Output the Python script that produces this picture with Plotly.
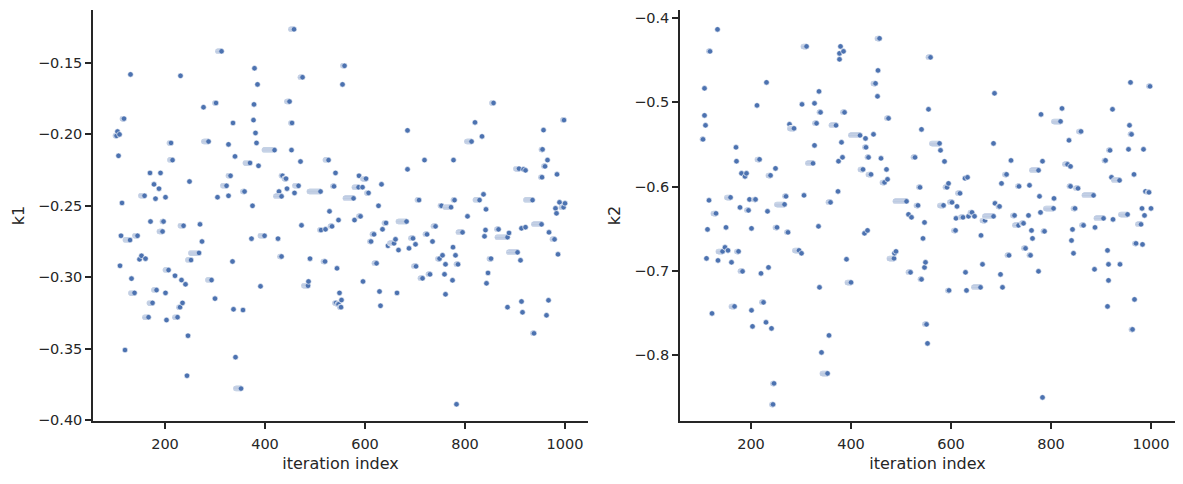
import plotly.graph_objects as go
from plotly.subplots import make_subplots

# ---- k1 chain: runs (end iteration, run length, value)
k1_end = [131,231,118,105,109,103,212,107,215,170,191,249,178,188,159,181,201,114,171,197,237,270,112,195,145,130,268,153,149,161,252,110,207,220,233,241,133,139,183,201,175,235,230,167,225,203,246,120,244,
          458,313,379,385,277,302,378,449,336,377,454,381,287,327,383,419,453,340,370,387,331,323,359,305,327,375,435,442,444,428,433,467,459,274,373,399,426,433,335,293,391,300,337,356,341,352,
          559,475,555,471,527,541,588,602,633,511,538,587,595,607,577,627,529,591,547,579,473,642,635,534,521,512,618,612,661,658,646,667,490,520,544,623,487,486,596,549,629,664,553,542,547,552,631,
          857,820,685,813,834,719,777,685,708,779,753,772,829,837,842,805,683,741,795,867,841,839,724,696,701,688,735,776,755,749,781,761,786,852,702,730,759,715,775,846,843,761,783,
          998,957,955,965,960,908,917,921,954,984,935,989,1000,981,997,983,888,885,913,921,953,968,979,905,911,986,913,967,885,915,963,938]
k1_len = [1,1,4,1,1,3,4,1,6,1,1,1,1,1,8,1,1,1,1,3,7,1,1,7,6,10,17,1,1,1,7,1,7,1,1,1,1,8,6,1,7,1,3,8,6,1,1,1,1,
          7,8,1,1,1,3,1,6,1,1,3,1,10,1,1,21,1,1,10,1,5,8,4,1,1,1,3,4,1,1,12,8,1,1,1,9,1,4,1,8,1,1,1,1,1,11,
          4,5,1,1,7,1,1,7,1,23,3,9,1,4,17,1,1,4,1,1,1,4,1,4,1,3,4,3,1,9,1,1,1,4,1,5,1,9,1,1,1,1,1,3,3,3,1,
          4,1,1,10,1,1,1,1,4,3,3,12,9,1,1,1,17,5,9,4,1,1,4,5,1,1,1,1,1,4,1,1,4,4,5,4,1,5,1,1,1,1,1,
          3,1,3,1,3,7,1,1,3,1,14,1,1,1,5,1,1,21,1,1,16,1,5,18,1,1,1,1,1,1,1,3]
k1_val = [-0.158,-0.159,-0.189,-0.198,-0.200,-0.201,-0.206,-0.215,-0.218,-0.227,-0.227,-0.233,-0.235,-0.238,-0.243,-0.245,-0.244,-0.248,-0.261,-0.261,-0.264,-0.263,-0.271,-0.268,-0.271,-0.274,-0.283,-0.285,-0.2875,-0.287,-0.288,-0.292,-0.295,-0.299,-0.302,-0.305,-0.301,-0.311,-0.309,-0.311,-0.318,-0.318,-0.321,-0.328,-0.328,-0.330,-0.341,-0.351,-0.369,
          -0.1264,-0.1418,-0.1537,-0.165,-0.181,-0.178,-0.179,-0.177,-0.192,-0.190,-0.192,-0.199,-0.205,-0.207,-0.206,-0.211,-0.211,-0.2154,-0.220,-0.222,-0.229,-0.236,-0.240,-0.244,-0.243,-0.250,-0.229,-0.231,-0.238,-0.240,-0.2434,-0.236,-0.241,-0.275,-0.273,-0.271,-0.273,-0.2855,-0.289,-0.302,-0.3064,-0.315,-0.3225,-0.323,-0.356,-0.378,
          -0.152,-0.160,-0.165,-0.219,-0.218,-0.227,-0.229,-0.231,-0.235,-0.240,-0.2364,-0.237,-0.237,-0.241,-0.2448,-0.250,-0.2539,-0.2574,-0.260,-0.260,-0.2637,-0.262,-0.2665,-0.2644,-0.2665,-0.267,-0.270,-0.275,-0.2735,-0.2763,-0.278,-0.281,-0.287,-0.289,-0.2938,-0.2903,-0.303,-0.306,-0.303,-0.311,-0.310,-0.311,-0.316,-0.318,-0.319,-0.321,-0.320,
          -0.178,-0.1916,-0.1972,-0.205,-0.2014,-0.218,-0.218,-0.2245,-0.246,-0.246,-0.250,-0.251,-0.246,-0.242,-0.2525,-0.2574,-0.261,-0.2644,-0.2686,-0.2665,-0.267,-0.2714,-0.270,-0.2728,-0.277,-0.2798,-0.275,-0.279,-0.2847,-0.287,-0.2847,-0.291,-0.291,-0.287,-0.2924,-0.298,-0.298,-0.3008,-0.3022,-0.297,-0.3043,-0.312,-0.389,
          -0.190,-0.197,-0.2105,-0.218,-0.2224,-0.224,-0.2245,-0.2252,-0.230,-0.228,-0.246,-0.2476,-0.2483,-0.2518,-0.251,-0.2553,-0.269,-0.272,-0.2658,-0.265,-0.263,-0.2686,-0.2735,-0.2826,-0.2882,-0.284,-0.317,-0.3162,-0.321,-0.3246,-0.3267,-0.3393]

# ---- k2 chain
k2_end = [133,118,107,231,212,107,109,104,170,171,217,249,239,181,191,188,116,159,209,197,178,195,233,267,130,113,150,201,252,148,143,154,175,111,134,161,183,220,235,225,167,201,122,203,230,241,246,244,
          457,311,379,377,385,377,454,449,453,336,302,327,339,387,277,286,331,370,418,429,445,327,381,430,383,375,435,460,424,440,324,374,270,306,359,335,274,433,427,296,301,391,400,337,356,341,353,
          559,555,475,541,577,579,587,528,471,473,467,538,595,592,628,633,618,511,534,585,602,612,515,521,547,610,624,635,642,647,665,544,609,660,490,487,486,549,547,663,519,541,629,596,631,659,551,553,
          687,780,822,819,860,836,685,720,783,711,775,833,839,701,736,757,839,854,777,806,688,697,805,848,779,685,668,727,755,735,745,761,763,787,843,841,865,749,716,759,845,699,775,703,783,
          959,998,923,957,961,918,955,985,909,966,921,937,885,989,996,982,1000,987,905,924,953,980,888,970,983,913,915,938,887,915,967,913,963]
k2_len = [1,3,1,1,1,1,1,2,1,1,5,1,5,1,1,1,1,8,3,1,1,4,1,16,6,1,1,1,4,1,9,1,4,1,1,1,5,1,1,4,7,1,1,1,1,1,3,3,
          5,7,1,1,1,1,1,5,1,1,1,1,3,4,1,9,4,10,19,1,1,1,1,3,1,1,3,1,6,6,11,1,3,1,5,1,3,1,1,9,1,1,8,1,1,1,11,
          5,1,4,1,16,1,1,4,1,1,5,3,1,4,1,1,5,23,4,8,5,1,1,1,1,1,5,1,4,1,3,1,4,1,1,1,10,1,1,1,5,3,1,3,1,14,4,1,
          1,1,1,14,5,1,1,1,1,4,14,6,1,1,3,1,3,5,1,1,1,3,16,4,1,18,3,4,1,8,4,1,1,3,1,1,4,4,4,3,1,1,1,1,1,
          1,3,1,1,3,3,1,1,3,1,1,12,19,1,3,1,1,1,15,1,14,7,1,3,1,1,1,1,1,1,1,1,3]
k2_val = [-0.4135,-0.4396,-0.4835,-0.4764,-0.5037,-0.5156,-0.5274,-0.5440,-0.5535,-0.570,-0.5678,-0.5785,-0.5868,-0.5844,-0.5844,-0.588,-0.6164,-0.6129,-0.6153,-0.6153,-0.6248,-0.6283,-0.6295,-0.6212,-0.6319,-0.6509,-0.6485,-0.6497,-0.6485,-0.6722,-0.6770,-0.6758,-0.6770,-0.6853,-0.6877,-0.690,-0.7007,-0.7031,-0.696,-0.7375,-0.7423,-0.747,-0.7506,-0.766,-0.7612,-0.7684,-0.8337,-0.8586,
          -0.4242,-0.4337,-0.4337,-0.4420,-0.4396,-0.4491,-0.4622,-0.4776,-0.4930,-0.4871,-0.5025,-0.5013,-0.512,-0.512,-0.5262,-0.5310,-0.525,-0.5274,-0.5393,-0.5429,-0.5381,-0.5512,-0.5476,-0.5535,-0.5654,-0.570,-0.5654,-0.5666,-0.5797,-0.5856,-0.5725,-0.6058,-0.6117,-0.6105,-0.6188,-0.6473,-0.6544,-0.6521,-0.6556,-0.6758,-0.6793,-0.6864,-0.7138,-0.7197,-0.7767,-0.7969,-0.8218,
          -0.4467,-0.5084,-0.5191,-0.5322,-0.5488,-0.5571,-0.5702,-0.5654,-0.5797,-0.5915,-0.5951,-0.601,-0.5963,-0.601,-0.5903,-0.5891,-0.6081,-0.6176,-0.6224,-0.6224,-0.6188,-0.6236,-0.6331,-0.6366,-0.6426,-0.6378,-0.6366,-0.6354,-0.6307,-0.6354,-0.6402,-0.6616,-0.6521,-0.658,-0.677,-0.6793,-0.6853,-0.690,-0.696,-0.6924,-0.7019,-0.7102,-0.7019,-0.7233,-0.7233,-0.7197,-0.7636,-0.7862,
          -0.4894,-0.5144,-0.5073,-0.5227,-0.5346,-0.5452,-0.5488,-0.569,-0.570,-0.5856,-0.5808,-0.5737,-0.5761,-0.5963,-0.5998,-0.5986,-0.5998,-0.6022,-0.6117,-0.6141,-0.620,-0.6236,-0.626,-0.626,-0.6307,-0.6354,-0.6402,-0.6343,-0.6343,-0.6461,-0.6437,-0.6521,-0.6616,-0.6532,-0.6509,-0.664,-0.6461,-0.6734,-0.6817,-0.6817,-0.6793,-0.7043,-0.7007,-0.7197,-0.8503,
          -0.4764,-0.4811,-0.5084,-0.5274,-0.5381,-0.5571,-0.5559,-0.5559,-0.569,-0.5856,-0.5891,-0.5927,-0.6105,-0.6058,-0.6069,-0.626,-0.626,-0.6343,-0.6378,-0.639,-0.6331,-0.6449,-0.6485,-0.6675,-0.6687,-0.6758,-0.6924,-0.6924,-0.6983,-0.7114,-0.734,-0.7423,-0.7696]

x_ticks = [200, 400, 600, 800, 1000]
k1_ticks = [-0.15, -0.20, -0.25, -0.30, -0.35, -0.40]
k2_ticks = [-0.4, -0.5, -0.6, -0.7, -0.8]


def expand(ends, lens, vals):
    pts = []
    for e, n, v in zip(ends, lens, vals):
        for i in range(e - n + 1, e + 1):
            pts.append((i, v))
    pts.sort(key=lambda p: p[0])
    return [p[0] for p in pts], [p[1] for p in pts]


x1, y1 = expand(k1_end, k1_len, k1_val)
x2, y2 = expand(k2_end, k2_len, k2_val)

fig = make_subplots(rows=1, cols=2)
mk = dict(size=5.5, color="#4c72b0", line=dict(color="white", width=0.6))
fig.add_trace(go.Scatter(x=x1, y=y1, mode="markers", marker=mk, showlegend=False), row=1, col=1)
fig.add_trace(go.Scatter(x=x2, y=y2, mode="markers", marker=mk, showlegend=False), row=1, col=2)

ink = "#262626"
axcommon = dict(showline=True, linecolor=ink, linewidth=1.5, ticks="outside", ticklen=6,
                tickwidth=1.5, tickcolor=ink, showgrid=False, zeroline=False, automargin=False,
                tickfont=dict(family="DejaVu Sans", size=14.5, color=ink),
                title_font=dict(family="DejaVu Sans", size=16, color=ink))

ML, MR, MT, MB = 93, 8, 10, 63
PW = 1183 - ML - MR
fig.update_xaxes(**axcommon, tickvals=x_ticks, title_text="iteration index",
                 title_standoff=7, ticklabelstandoff=3)
fig.update_xaxes(range=[56, 1046], domain=[0, (588 - ML) / PW], row=1, col=1)
fig.update_xaxes(range=[58, 1048], domain=[(680 - ML) / PW, 1], row=1, col=2)
fig.update_yaxes(**axcommon)
fig.update_yaxes(range=[-0.4007, -0.1129], tickvals=k1_ticks, tickformat=".2f",
                 title_text="k1", title_standoff=9, domain=[0, 1], row=1, col=1)
fig.update_yaxes(range=[-0.8783, -0.3905], tickvals=k2_ticks, tickformat=".1f",
                 title_text="k2", title_standoff=10, domain=[0, 1], row=1, col=2)

fig.update_layout(width=1183, height=484, margin=dict(l=ML, r=MR, t=MT, b=MB),
                  plot_bgcolor="white", paper_bgcolor="white",
                  font=dict(family="DejaVu Sans", color=ink))
fig.write_html("out.html")
